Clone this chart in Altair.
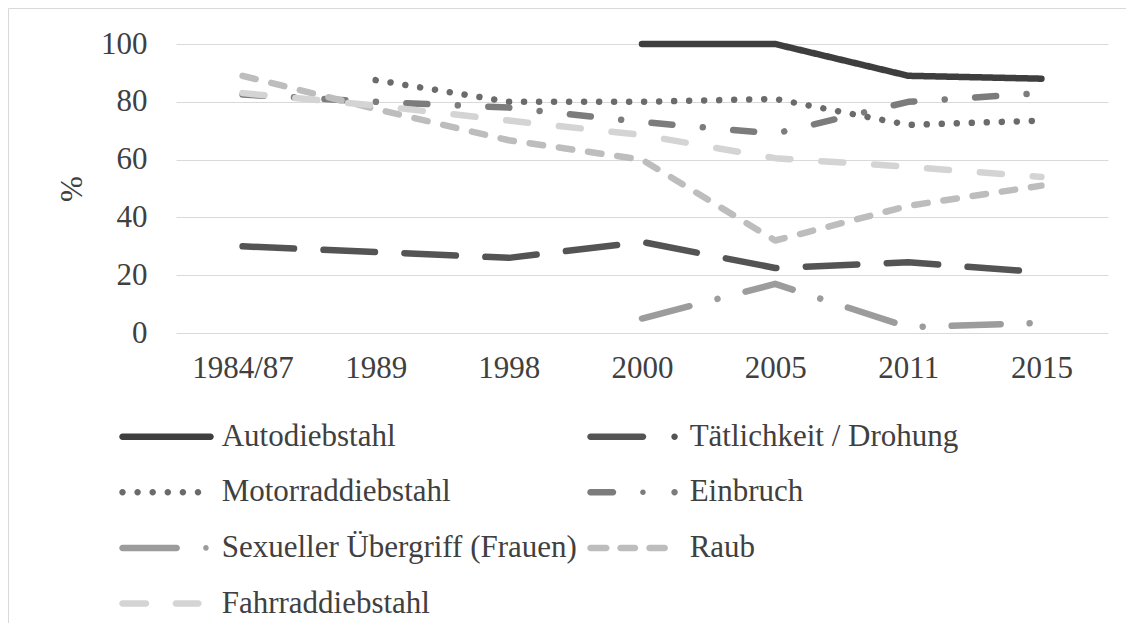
import altair as alt
import pandas as pd

FONT = "Liberation Serif"
TEXT = "#404040"

years = ["1984/87", "1989", "1998", "2000", "2005", "2011", "2015"]
series = ["Autodiebstahl", "Tätlichkeit / Drohung", "Motorraddiebstahl", "Einbruch",
          "Sexueller Übergriff (Frauen)", "Raub", "Fahrraddiebstahl"]

autodiebstahl = [None, None, None, 100, 100, 89, 88]
taetlichkeit = [30, 28, 26, 31.5, 22.5, 24.5, 21]
motorrad = [None, 87.5, 80, 80, 81, 72, 73.5]
einbruch = [82.5, 80, 78, 73, 69, 80, 83]
sexuell = [None, None, None, 5, 17, 2, 3.5]
raub = [89, 77.5, 66.7, 60, 32, 44, 51]
fahrrad = [83, 78.7, 73.5, 68.5, 60.5, 57.5, 54]

values = [autodiebstahl, taetlichkeit, motorrad, einbruch, sexuell, raub, fahrrad]

colors = ["#3e3e3e", "#545454", "#6b6b6b", "#7c7c7c", "#9c9c9c", "#bdbdbd", "#d4d4d4"]
dashes = [[1, 0], [51.5, 29.5], [0.01, 15], [21, 30.5, 0.01, 30.5],
          [49, 29, 0.01, 29], [13.5, 16], [22, 31]]


def stadium(a, b, h=3.25):
    return (f"M{a + h},{-h}H{b - h}A{h},{h} 0 0 1 {b - h},{h}"
            f"H{a + h}A{h},{h} 0 0 1 {a + h},{-h}Z")


def dot(c, h=3.25):
    return f"M{c - h},0A{h},{h} 0 1 1 {c + h},0A{h},{h} 0 1 1 {c - h},0Z"


legend_paths = [
    stadium(-47.25, 47.25),
    stadium(-47.25, 11.75) + dot(40.05),
    "".join(dot(-44 + 15.1 * k) for k in range(6)),
    stadium(-47.25, -18.25) + dot(8.45, 2.8) + dot(40.05),
    stadium(-47.25, 13.45) + dot(39.45, 2.8),
    stadium(-47.25, -24.95) + stadium(-17.25, 3.75) + stadium(11.75, 33.45),
    stadium(-47.25, -17.25) + stadium(6.15, 35.15),
]

rows = []
for sid, (s, vals) in enumerate(zip(series, values)):
    for i, (yr, v) in enumerate(zip(years, vals)):
        if v is not None:
            rows.append({"series": s, "sid": sid, "year": yr, "idx": i, "value": v})
df = pd.DataFrame(rows)
sids = list(range(len(series)))

x_enc = alt.X("year:N", sort=years, title=None,
              scale=alt.Scale(type="point", padding=0.5),
              axis=alt.Axis(labelAngle=0, labelFont=FONT, labelFontSize=31, labelColor=TEXT,
                            labelPadding=20, ticks=False, tickSize=0, domain=False, grid=False))
y_enc = alt.Y("value:Q", scale=alt.Scale(domain=[0, 100], nice=False),
              axis=alt.Axis(values=[0, 20, 40, 60, 80, 100], title="%", titleFont=FONT,
                            titleFontSize=31, titleFontWeight="normal", titleColor=TEXT,
                            titleAngle=270, titleX=-104, titleY=144.5, titleAlign="center",
                            titleBaseline="middle", labelFont=FONT, labelFontSize=31,
                            labelColor=TEXT, labelPadding=29, ticks=False, tickSize=0,
                            domain=False, grid=True, gridColor="#d9d9d9", gridWidth=1.2))

lines = alt.Chart(df).mark_line(strokeWidth=6.5, strokeCap="round", strokeJoin="round").encode(
    x=x_enc,
    y=y_enc,
    stroke=alt.Stroke("sid:N", scale=alt.Scale(domain=sids, range=colors), legend=None),
    strokeDash=alt.StrokeDash("sid:N", scale=alt.Scale(domain=sids, range=dashes), legend=None),
    order=alt.Order("idx:Q"),
)

legend_cfg = alt.Legend(orient="none", legendX=-25, legendY=377, columns=2, direction="horizontal",
                        columnPadding=10, rowPadding=23.7, symbolSize=4, symbolStrokeWidth=0,
                        symbolOpacity=1, labelFont=FONT, labelFontSize=31, labelColor=TEXT,
                        labelOffset=39.65, labelLimit=1000, padding=0)

legend_layer = alt.Chart(df).mark_point(filled=True, opacity=0, size=4).encode(
    x=alt.X("year:N", sort=years),
    y=alt.Y("value:Q"),
    color=alt.Color("series:N", title=None, scale=alt.Scale(domain=series, range=colors),
                    legend=legend_cfg),
    shape=alt.Shape("series:N", title=None, scale=alt.Scale(domain=series, range=legend_paths),
                    legend=legend_cfg),
)

frame = pd.DataFrame({"k": [0]})
top_border = alt.Chart(frame).mark_rule(color="#d9d9d9", strokeWidth=1).encode(
    x=alt.value(-167.5), x2=alt.value(950), y=alt.value(-35.5))
left_border = alt.Chart(frame).mark_rule(color="#d9d9d9", strokeWidth=1).encode(
    x=alt.value(-167.5), y=alt.value(-35.5), y2=alt.value(587))

chart = alt.layer(top_border, left_border, lines, legend_layer).properties(
    width=932, height=289,
    autosize=alt.AutoSizeParams(type="none"),
    padding={"left": 168, "top": 36, "right": 18, "bottom": 290},
    background="white",
).configure_view(strokeWidth=0)

chart.save("out.html", embed_options={"renderer": "svg", "actions": False})
